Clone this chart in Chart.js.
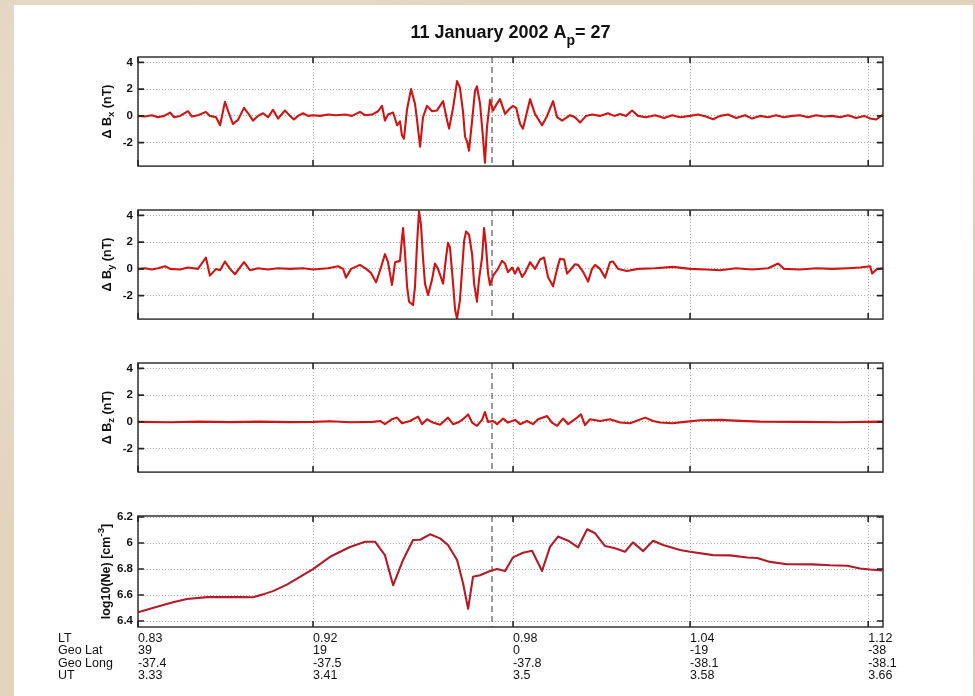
<!DOCTYPE html>
<html>
<head>
<meta charset="utf-8">
<title>11 January 2002 Ap = 27</title>
<script src="https://cdn.jsdelivr.net/npm/chart.js@4.4.1/dist/chart.umd.min.js"></script>
<style>
  html, body { margin: 0; padding: 0; }
  body {
    width: 975px; height: 696px; overflow: hidden; position: relative;
    background-color: #e2d3bd;
    background-image: radial-gradient(circle at 20% 30%, rgba(255,255,255,0.35), rgba(255,255,255,0) 40%),
                      radial-gradient(circle at 80% 70%, rgba(170,140,110,0.25), rgba(170,140,110,0) 45%);
  }
  #sheet { position: absolute; left: 14px; top: 5px; width: 959px; height: 691px; background: #fff; }
  canvas { position: absolute; left: 0; }
</style>
</head>
<body>
<div id="sheet"></div>
<canvas id="panelBx" width="975" height="178" style="top:0px"></canvas>
<canvas id="panelBy" width="975" height="153" style="top:178px"></canvas>
<canvas id="panelBz" width="975" height="153" style="top:331px"></canvas>
<canvas id="panelNe" width="975" height="212" style="top:484px"></canvas>
<script>
// --- orbit annotation (x axis is UT in hours) ---
const utTicks = [3.33, 3.4091, 3.4995, 3.5795, 3.66];
const ltLabels = ['0.83', '0.92', '0.98', '1.04', '1.12'];
const geoLatLabels = ['39', '19', '0', '-19', '-38'];
const geoLongLabels = ['-37.4', '-37.5', '-37.8', '-38.1', '-38.1'];
const utLabels = ['3.33', '3.41', '3.5', '3.58', '3.66'];
const rowNames = ['LT', 'Geo Lat', 'Geo Long', 'UT'];
const markerUT = 3.49;

const bTicks = [-2, 0, 2, 4];
const bTickLabels = ['-2', '0', '2', '4'];
const neTicks = [5.4, 5.6, 5.8, 6.0, 6.2];
const neTickLabels = ['6.4', '6.6', '6.8', '6', '6.2'];

// --- Delta Bx (nT) ---
const bxTime = [3.3300, 3.3332, 3.3363, 3.3390, 3.3418, 3.3445, 3.3463, 3.3490, 3.3526, 3.3544,
  3.3571, 3.3607, 3.3625, 3.3653, 3.3671, 3.3693, 3.3711, 3.3729, 3.3752, 3.3779,
  3.3802, 3.3820, 3.3842, 3.3865, 3.3888, 3.3910, 3.3933, 3.3964, 3.3987, 3.4005,
  3.4023, 3.4046, 3.4068, 3.4091, 3.4123, 3.4159, 3.4195, 3.4236, 3.4267, 3.4303,
  3.4326, 3.4358, 3.4385, 3.4403, 3.4416, 3.4430, 3.4453, 3.4471, 3.4484, 3.4493,
  3.4502, 3.4516, 3.4534, 3.4552, 3.4561, 3.4575, 3.4588, 3.4606, 3.4629, 3.4651,
  3.4679, 3.4697, 3.4706, 3.4724, 3.4742, 3.4755, 3.4769, 3.4778, 3.4787, 3.4796,
  3.4810, 3.4823, 3.4832, 3.4846, 3.4859, 3.4868, 3.4877, 3.4891, 3.4905, 3.4918,
  3.4936, 3.4959, 3.4977, 3.4995, 3.5009, 3.5027, 3.5040, 3.5058, 3.5072, 3.5094,
  3.5126, 3.5149, 3.5176, 3.5194, 3.5217, 3.5253, 3.5275, 3.5298, 3.5325, 3.5352,
  3.5388, 3.5424, 3.5452, 3.5479, 3.5506, 3.5533, 3.5560, 3.5596, 3.5637, 3.5678,
  3.5714, 3.5750, 3.5795, 3.5831, 3.5867, 3.5899, 3.5931, 3.5967, 3.6003, 3.6044,
  3.6075, 3.6111, 3.6148, 3.6184, 3.6220, 3.6256, 3.6292, 3.6328, 3.6365, 3.6401,
  3.6437, 3.6473, 3.6509, 3.6545, 3.6582, 3.6609, 3.6636, 3.6654, 3.6667];
const bxValues = [0.0, -0.05, 0.05, -0.1, 0.0, 0.25, -0.1, 0.0, 0.35, -0.05,
  0.05, 0.3, 0.0, -0.1, -0.7, 1.05, 0.2, -0.6, -0.3, 0.6,
  0.1, -0.35, 0.0, 0.2, -0.1, 0.45, -0.2, 0.4, 0.0, -0.27,
  0.0, 0.2, 0.0, 0.05, 0.0, 0.1, 0.05, 0.1, 0.0, 0.3,
  0.05, 0.1, 0.35, 0.75, -0.35, 0.1, 0.25, -0.7, -0.4, -1.45,
  -1.7, 0.5, 2.0, 0.9, -0.3, -2.3, -0.1, 0.75, 0.35, 0.4,
  1.1, -0.35, -0.95, 0.6, 2.6, 2.1, 0.3, -1.55, -1.9, -2.6,
  -0.35, 1.85, 2.2, 0.9, -1.6, -3.5, -0.9, 1.2, 0.4, 0.8,
  1.25, 0.15, 0.5, 0.75, 0.6, -0.6, -0.95, 0.3, 1.25, 0.15,
  -0.7, 0.0, 1.1, -0.1, -0.35, 0.05, -0.1, -0.5, 0.0, 0.1,
  0.0, 0.2, 0.0, 0.15, 0.0, 0.4, 0.0, -0.1, 0.05, -0.15,
  0.05, -0.1, 0.0, 0.1, -0.05, -0.25, 0.0, 0.1, -0.15, 0.05,
  -0.2, 0.0, -0.1, 0.05, -0.1, 0.0, 0.05, -0.1, 0.05, -0.05,
  0.0, -0.1, 0.05, -0.15, 0.0, -0.2, -0.27, -0.05, 0.1];

// --- Delta By (nT) ---
const byTime = [3.3300, 3.3332, 3.3363, 3.3390, 3.3422, 3.3445, 3.3490, 3.3526, 3.3571, 3.3607,
  3.3625, 3.3653, 3.3671, 3.3693, 3.3716, 3.3738, 3.3779, 3.3806, 3.3842, 3.3888,
  3.3933, 3.3987, 3.4046, 3.4091, 3.4159, 3.4204, 3.4227, 3.4240, 3.4263, 3.4303,
  3.4331, 3.4353, 3.4376, 3.4398, 3.4416, 3.4430, 3.4448, 3.4462, 3.4484, 3.4493,
  3.4498, 3.4507, 3.4516, 3.4525, 3.4543, 3.4552, 3.4561, 3.4570, 3.4579, 3.4588,
  3.4597, 3.4611, 3.4629, 3.4642, 3.4656, 3.4679, 3.4692, 3.4701, 3.4710, 3.4724,
  3.4733, 3.4742, 3.4755, 3.4765, 3.4774, 3.4783, 3.4796, 3.4810, 3.4819, 3.4832,
  3.4841, 3.4855, 3.4864, 3.4872, 3.4882, 3.4891, 3.4905, 3.4927, 3.4945, 3.4959,
  3.4972, 3.4991, 3.5004, 3.5018, 3.5036, 3.5049, 3.5072, 3.5094, 3.5117, 3.5135,
  3.5153, 3.5176, 3.5194, 3.5207, 3.5226, 3.5239, 3.5253, 3.5275, 3.5289, 3.5311,
  3.5334, 3.5352, 3.5366, 3.5388, 3.5411, 3.5433, 3.5447, 3.5470, 3.5510, 3.5560,
  3.5637, 3.5718, 3.5795, 3.5867, 3.5931, 3.6003, 3.6075, 3.6148, 3.6193, 3.6220,
  3.6292, 3.6365, 3.6437, 3.6509, 3.6563, 3.6609, 3.6618, 3.6640, 3.6667];
const byValues = [0.0, 0.05, -0.05, 0.05, 0.2, 0.0, -0.05, 0.1, 0.0, 0.85,
  -0.5, 0.0, -0.1, 0.55, 0.0, -0.4, 0.5, -0.1, 0.05, -0.05,
  0.05, 0.0, 0.05, -0.05, 0.05, 0.2, 0.0, -0.65, 0.0, 0.3,
  0.0, -0.3, -1.0, 0.1, 1.1, 0.5, -1.2, 0.5, 0.6, 2.3,
  3.05, 1.1, -1.3, -2.45, -2.7, -1.3, 1.85, 4.3, 3.3, 0.85,
  -1.1, -1.95, -0.8, 0.4, 0.0, -1.1, 0.85, 1.95, 1.6, -1.1,
  -3.05, -3.7, -2.35, 0.0, 2.1, 2.8, 2.55, 1.1, -1.1, -2.45,
  -0.8, 0.85, 3.05, 1.85, -0.35, -1.2, -0.5, 0.0, 0.6, 0.4,
  -0.25, 0.1, -0.35, 0.1, -0.6, -0.3, 0.5, 0.0, 0.7, 0.85,
  -0.6, -1.3, 0.0, 0.75, 0.7, -0.35, -0.1, 0.35, 0.3, -0.2,
  -0.95, 0.0, 0.3, 0.0, -0.65, 0.5, 0.55, 0.0, -0.15, 0.0,
  0.05, 0.15, 0.0, -0.05, -0.1, 0.05, -0.05, 0.05, 0.4, 0.0,
  -0.05, 0.05, 0.0, 0.05, 0.1, 0.2, -0.35, 0.0, 0.05];

// --- Delta Bz (nT) ---
const bzTime = [3.3300, 3.3445, 3.3580, 3.3716, 3.3851, 3.3987, 3.4091, 3.4168, 3.4258, 3.4362,
  3.4394, 3.4416, 3.4448, 3.4471, 3.4493, 3.4529, 3.4566, 3.4584, 3.4606, 3.4633,
  3.4665, 3.4701, 3.4724, 3.4746, 3.4769, 3.4792, 3.4810, 3.4832, 3.4855, 3.4868,
  3.4882, 3.4905, 3.4923, 3.4950, 3.4972, 3.5004, 3.5027, 3.5058, 3.5085, 3.5108,
  3.5149, 3.5171, 3.5194, 3.5221, 3.5244, 3.5275, 3.5302, 3.5320, 3.5343, 3.5388,
  3.5433, 3.5479, 3.5524, 3.5592, 3.5628, 3.5659, 3.5714, 3.5772, 3.5840, 3.5931,
  3.6021, 3.6111, 3.6292, 3.6473, 3.6654, 3.6667];
const bzValues = [0.0, -0.03, 0.02, -0.02, 0.02, -0.02, 0.0, 0.05, -0.03, 0.0,
  0.07, -0.17, 0.2, 0.32, -0.1, 0.07, 0.39, -0.17, 0.2, -0.05,
  -0.22, 0.32, -0.17, -0.05, 0.2, 0.56, -0.05, -0.29, 0.15, 0.74,
  0.0, 0.07, -0.17, 0.25, -0.05, 0.15, -0.17, 0.07, -0.17, 0.2,
  0.44, -0.05, -0.29, 0.25, -0.17, 0.2, 0.56, -0.24, 0.2, 0.07,
  0.2, -0.05, -0.1, 0.32, 0.07, -0.05, -0.1, 0.0, 0.12, 0.15,
  0.08, 0.02, 0.0, -0.03, 0.02, 0.0];

// --- log10(Ne) ---
const neTime = [3.3300, 3.3386, 3.3458, 3.3521, 3.3612, 3.3761, 3.3820, 3.3865, 3.3910, 3.3973,
  3.4032, 3.4091, 3.4168, 3.4258, 3.4326, 3.4371, 3.4416, 3.4453, 3.4498, 3.4543,
  3.4575, 3.4620, 3.4665, 3.4701, 3.4742, 3.4769, 3.4792, 3.4814, 3.4846, 3.4891,
  3.4923, 3.4959, 3.4995, 3.5040, 3.5081, 3.5126, 3.5162, 3.5198, 3.5244, 3.5289,
  3.5330, 3.5366, 3.5411, 3.5456, 3.5501, 3.5537, 3.5583, 3.5628, 3.5673, 3.5750,
  3.5795, 3.5899, 3.5976, 3.6053, 3.6098, 3.6157, 3.6233, 3.6351, 3.6428, 3.6505,
  3.6563, 3.6609, 3.6663];
const neValues = [5.467, 5.51, 5.545, 5.57, 5.584, 5.585, 5.583, 5.605, 5.63, 5.68,
  5.74, 5.80, 5.894, 5.97, 6.01, 6.01, 5.907, 5.675, 5.87, 6.023,
  6.025, 6.067, 6.036, 5.985, 5.87, 5.69, 5.494, 5.74, 5.752, 5.785,
  5.80, 5.785, 5.89, 5.925, 5.94, 5.785, 5.97, 6.05, 6.018, 5.967,
  6.106, 6.075, 5.977, 5.96, 5.933, 6.005, 5.938, 6.018, 5.985, 5.946,
  5.933, 5.907, 5.905, 5.889, 5.885, 5.855, 5.837, 5.836, 5.829, 5.825,
  5.804, 5.796, 5.79];

const FONT = "'Liberation Sans', Arial, Helvetica, sans-serif";
const GRID = '#b0b0b0';
const PLOT_LEFT = 138;
const PLOT_RIGHT = 883;

// draw a short run of text pieces with sub/superscripts, centred on the origin
function drawRichText(ctx, parts, size) {
  let total = 0;
  parts.forEach(p => {
    p.size = p.shift ? size * 0.78 : size;
    ctx.font = `bold ${p.size}px ${FONT}`;
    p.width = ctx.measureText(p.text).width;
    total += p.width;
  });
  let cx = -total / 2;
  parts.forEach(p => {
    ctx.font = `bold ${p.size}px ${FONT}`;
    ctx.fillText(p.text, cx, (p.shift || 0) * size);
    cx += p.width;
  });
}

function panelDecor(cfg) {
  return {
    id: 'panelDecor',
    beforeDatasetsDraw(chart) {
      const {ctx, chartArea: a, scales: {x}} = chart;
      const mx = x.getPixelForValue(markerUT);
      ctx.save();
      ctx.strokeStyle = '#5a5a5a';
      ctx.lineWidth = 1.2;
      ctx.setLineDash([6, 4]);
      ctx.beginPath();
      ctx.moveTo(mx, a.top);
      ctx.lineTo(mx, a.bottom);
      ctx.stroke();
      ctx.restore();
    },
    afterDraw(chart) {
      const {ctx, chartArea: a, scales: {x, y}} = chart;
      ctx.save();
      // MATLAB-style box with inward ticks
      ctx.strokeStyle = '#262626';
      ctx.lineWidth = 1.6;
      ctx.beginPath();
      y.ticks.forEach(t => {
        const py = y.getPixelForValue(t.value);
        ctx.moveTo(a.left, py); ctx.lineTo(a.left + 6, py);
        ctx.moveTo(a.right, py); ctx.lineTo(a.right - 6, py);
      });
      x.ticks.forEach(t => {
        const px = x.getPixelForValue(t.value);
        ctx.moveTo(px, a.top); ctx.lineTo(px, a.top + 6);
        ctx.moveTo(px, a.bottom); ctx.lineTo(px, a.bottom - 6);
      });
      ctx.stroke();
      ctx.lineWidth = 1.4;
      ctx.strokeRect(a.left, a.top, a.right - a.left, a.bottom - a.top);

      ctx.fillStyle = '#111';
      ctx.textBaseline = 'alphabetic';
      // y axis title, rotated
      ctx.save();
      ctx.translate(cfg.titleX, (a.top + a.bottom) / 2);
      ctx.rotate(-Math.PI / 2);
      drawRichText(ctx, cfg.yTitle, cfg.yTitleSize);
      ctx.restore();

      if (cfg.mainTitle) {
        ctx.save();
        ctx.translate((a.left + a.right) / 2, 38);
        drawRichText(ctx, cfg.mainTitle, 18);
        ctx.restore();
      }

      if (cfg.rowNames) {
        ctx.font = `12.5px ${FONT}`;
        ctx.textAlign = 'left';
        ctx.textBaseline = 'middle';
        rowNames.forEach((name, i) => {
          ctx.fillText(name, 58, a.bottom + 5 + 6.25 + i * 12.5);
        });
      }
      ctx.restore();
    }
  };
}

function makePanel(canvasId, times, values, cfg) {
  const points = times.map((t, i) => ({x: t, y: values[i]}));
  const canvas = document.getElementById(canvasId);
  const xTicks = cfg.rowNames ? {
    display: true,
    autoSkip: false,
    maxRotation: 0,
    minRotation: 0,
    align: 'start',
    padding: 5,
    color: '#111',
    font: {family: FONT, size: 12.5, lineHeight: 1},
    callback: (v, i) => [ltLabels[i], geoLatLabels[i], geoLongLabels[i], utLabels[i]]
  } : {display: false};

  return new Chart(canvas, {
    type: 'line',
    data: {
      datasets: [{
        data: points,
        borderColor: cfg.color,
        borderWidth: cfg.lineWidth,
        pointRadius: 0,
        tension: 0,
        fill: false,
        borderJoinStyle: 'round'
      }]
    },
    options: {
      responsive: false,
      animation: false,
      events: [],
      layout: {padding: {left: 0, right: canvas.width - PLOT_RIGHT, top: cfg.padTop, bottom: cfg.padBottom}},
      plugins: {legend: {display: false}, tooltip: {enabled: false}},
      scales: {
        x: {
          type: 'linear',
          min: 3.33,
          max: 3.6667,
          afterBuildTicks: s => { s.ticks = utTicks.map(v => ({value: v})); },
          afterFit: s => { s.height = cfg.xAxisHeight; },
          grid: {color: GRID, lineWidth: 1, drawTicks: false},
          border: {display: false, dash: [1, 2]},
          ticks: xTicks
        },
        y: {
          type: 'linear',
          min: cfg.yMin,
          max: cfg.yMax,
          afterBuildTicks: s => { s.ticks = cfg.yTicks.map(v => ({value: v})); },
          afterFit: s => { s.width = PLOT_LEFT; },
          grid: {color: GRID, lineWidth: 1, drawTicks: false},
          border: {display: false, dash: [1, 2]},
          ticks: {
            padding: 5,
            color: '#111',
            font: {family: FONT, size: 11.5, weight: 'bold'},
            callback: (v, i) => cfg.yTickLabels[i]
          }
        }
      }
    },
    plugins: [panelDecor(cfg)]
  });
}

const bPanel = {
  yMin: -3.75, yMax: 4.4, yTicks: bTicks, yTickLabels: bTickLabels,
  color: '#cf1414', lineWidth: 2.1, xAxisHeight: 0, titleX: 111, yTitleSize: 12.5
};

makePanel('panelBx', bxTime, bxValues, Object.assign({}, bPanel, {
  padTop: 57, padBottom: 10,
  yTitle: [{text: '\u0394 B'}, {text: 'x', shift: 0.25}, {text: ' (nT)'}],
  mainTitle: [{text: '11 January 2002 A'}, {text: 'p', shift: 0.4}, {text: '= 27'}]
}));

makePanel('panelBy', byTime, byValues, Object.assign({}, bPanel, {
  padTop: 32, padBottom: 10,
  yTitle: [{text: '\u0394 B'}, {text: 'y', shift: 0.25}, {text: ' (nT)'}]
}));

makePanel('panelBz', bzTime, bzValues, Object.assign({}, bPanel, {
  padTop: 32, padBottom: 10,
  yTitle: [{text: '\u0394 B'}, {text: 'z', shift: 0.25}, {text: ' (nT)'}]
}));

makePanel('panelNe', neTime, neValues, {
  yMin: 5.354, yMax: 6.208, yTicks: neTicks, yTickLabels: neTickLabels,
  color: '#b01c28', lineWidth: 2.1, xAxisHeight: 69, titleX: 110, yTitleSize: 12.5,
  padTop: 32, padBottom: 0,
  yTitle: [{text: 'log10(Ne) [cm'}, {text: '-3', shift: -0.45}, {text: ']'}],
  rowNames: true
});
</script>
</body>
</html>
